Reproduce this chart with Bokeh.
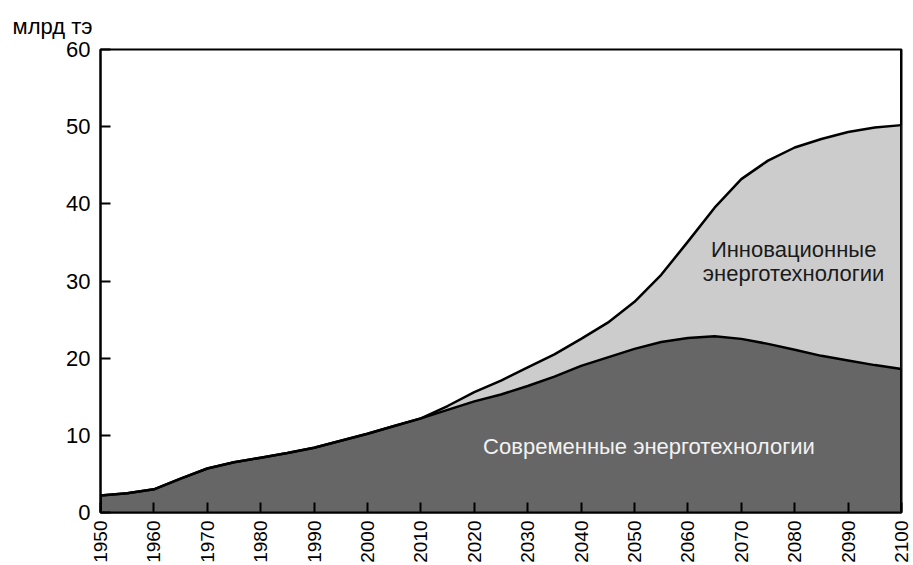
import math
import numpy as np
from bokeh.plotting import figure
from bokeh.models import Range1d, FixedTicker, Label
from bokeh.embed import file_html
from bokeh.resources import INLINE

# --- data ---
years = [1950, 1955, 1960, 1965, 1970, 1975, 1980, 1985, 1990, 1995, 2000,
         2005, 2010, 2015, 2020, 2025, 2030, 2035, 2040, 2045, 2050, 2055,
         2060, 2065, 2070, 2075, 2080, 2085, 2090, 2095, 2100]
modern = [2.2, 2.5, 3.0, 4.4, 5.7, 6.5, 7.1, 7.7, 8.4, 9.3, 10.2,
          11.2, 12.2, 13.3, 14.4, 15.3, 16.4, 17.6, 19.0, 20.1, 21.2, 22.1,
          22.6, 22.85, 22.5, 21.85, 21.1, 20.3, 19.7, 19.1, 18.6]
innovative = [0, 0, 0, 0, 0, 0, 0, 0, 0, 0, 0,
              0, 0, 0.5, 1.2, 1.8, 2.4, 2.9, 3.5, 4.5, 6.1, 8.7,
              12.5, 16.65, 20.7, 23.75, 26.2, 28.1, 29.6, 30.8, 31.6]
x_ticks = list(range(1950, 2101, 10))
y_ticks = [0, 10, 20, 30, 40, 50, 60]
unit_label = "млрд тэ"
label_modern = "Современные энерготехнологии"
label_innov_1 = "Инновационные"
label_innov_2 = "энерготехнологии"

total = (np.array(modern) + np.array(innovative)).tolist()

FONT = "Liberation Sans"
DARK = "#666666"
LIGHT = "#cccccc"

p = figure(width=913, height=565, output_backend="svg", toolbar_location=None,
           x_range=Range1d(1950, 2100), y_range=Range1d(0, 60),
           min_border_left=100, min_border_right=12, min_border_top=49,
           min_border_bottom=0)
p.grid.visible = False
p.background_fill_color = "white"
p.border_fill_color = "white"
p.outline_line_color = "black"
p.outline_line_width = 2

p.title.text = unit_label
p.title.align = "left"
p.title.offset = -88
p.title.standoff = 21
p.title.text_font = FONT
p.title.text_font_size = "22px"
p.title.text_font_style = "normal"
p.title.text_color = "black"

p.varea(x=years, y1=[0] * len(years), y2=modern, fill_color=DARK)
p.varea(x=years, y1=modern, y2=total, fill_color=LIGHT)
p.line(x=years, y=total, line_color="black", line_width=2.5)
p.line(x=years, y=modern, line_color="black", line_width=2.5)
p.segment(x0=[years[0]], y0=[0], x1=[years[0]], y1=[modern[0]],
          line_color="black", line_width=3)
p.segment(x0=[years[-1]], y0=[0], x1=[years[-1]], y1=[60],
          line_color="black", line_width=3)

for ax in (p.xaxis[0], p.yaxis[0]):
    ax.axis_line_color = "black"
    ax.axis_line_width = 2
    ax.major_tick_line_color = "black"
    ax.major_tick_line_width = 2
    ax.major_tick_in = 10
    ax.major_tick_out = 0
    ax.minor_tick_line_color = None
    ax.major_label_text_font = FONT
    ax.major_label_text_color = "black"

p.xaxis.ticker = FixedTicker(ticks=x_ticks)
p.yaxis.ticker = FixedTicker(ticks=y_ticks)
p.xaxis.major_label_orientation = math.pi / 2
p.xaxis.major_label_text_font_size = "19px"
p.xaxis.major_label_standoff = 8
p.yaxis.major_label_text_font_size = "22px"
p.yaxis.major_label_standoff = 10

p.add_layout(Label(x=2052.7, y=8.6, text=label_modern, text_font=FONT,
                   text_font_size="22px", text_align="center",
                   text_baseline="middle", text_color="#f2f2f2"))
p.add_layout(Label(x=2079.8, y=34.1, text=label_innov_1, text_font=FONT,
                   text_font_size="22px", text_align="center",
                   text_baseline="middle", text_color="#1a1a1a"))
p.add_layout(Label(x=2079.8, y=31.0, text=label_innov_2, text_font=FONT,
                   text_font_size="22px", text_align="center",
                   text_baseline="middle", text_color="#1a1a1a"))

open("out.html", "w").write(file_html(p, INLINE))
